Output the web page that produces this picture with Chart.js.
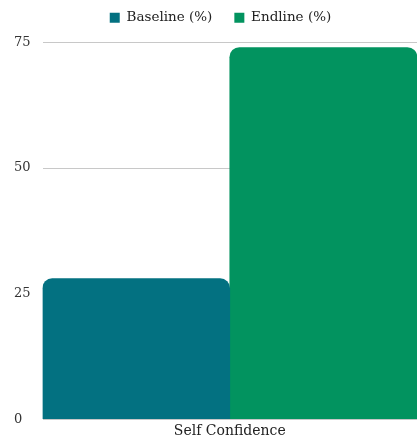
<!DOCTYPE html>
<html><head><meta charset="utf-8">
<script src="https://cdn.jsdelivr.net/npm/chart.js@4"></script>
<style>html,body{margin:0;padding:0;background:#fff}#wrap{width:417px;height:444px}</style>
</head><body><div id="wrap"><canvas id="c"></canvas></div>
<script>
const categories = ["Self Confidence"];
const baselineValues = [28];
const endlineValues = [74];
const seriesLabels = ["Baseline (%)", "Endline (%)"];
const yTicks = [0, 25, 50, 75];

const legendTweak = {
  id: 'legendTweak',
  afterInit(chart) {
    const lg = chart.legend;
    const fit = lg.fit;
    lg.fit = function () { fit.call(this); this.height += 8; };
  },
  afterLayout(chart) { chart.legend.left += 10; }
};

Chart.defaults.font.family = "'DejaVu Serif', serif";
new Chart(document.getElementById('c'), {
  type: 'bar',
  data: {
    labels: categories,
    datasets: [
      {label: seriesLabels[0], data: baselineValues, backgroundColor: '#037181', borderRadius: {topLeft: 10, topRight: 10}, borderSkipped: 'bottom'},
      {label: seriesLabels[1], data: endlineValues, backgroundColor: '#02935f', borderRadius: {topLeft: 10, topRight: 10}, borderSkipped: 'bottom'}
    ]
  },
  plugins: [legendTweak],
  options: {
    responsive: true, maintainAspectRatio: false, animation: false,
    layout: {padding: {left: 14, right: 0, top: -11, bottom: 0}},
    datasets: {bar: {categoryPercentage: 1, barPercentage: 1}},
    plugins: {
      legend: {position: 'top', labels: {usePointStyle: true, pointStyle: 'rect', boxWidth: 10, boxHeight: 10, color: '#222', font: {size: 13.5}, padding: 22}},
      tooltip: {enabled: false}
    },
    scales: {
      x: {grid: {display: false, drawTicks: false}, border: {display: false}, ticks: {color: '#222', font: {size: 14}, padding: 4}},
      y: {min: 0, max: 75, afterBuildTicks: a => { a.ticks = yTicks.map(v => ({value: v})); },
          grid: {color: '#c8c8c8', drawTicks: false}, border: {display: false},
          ticks: {color: '#333', font: {size: 13}, padding: 6, crossAlign: 'far'}}
    }
  }
});
</script></body></html>
